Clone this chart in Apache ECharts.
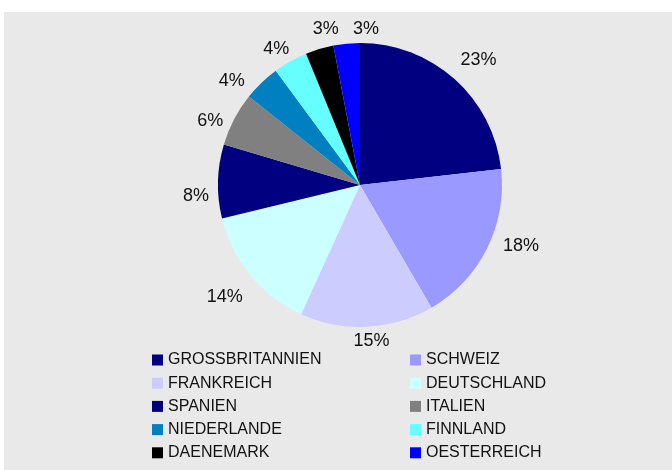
<!DOCTYPE html>
<html lang="de">
<head>
    <meta charset="UTF-8">
    <title>Anteile nach Land</title>
    <script src="https://cdn.jsdelivr.net/npm/echarts@6/dist/echarts.min.js"></script>
    <style>
        html, body { margin: 0; padding: 0; background: #fff; }
        #bg { position: absolute; left: 4px; top: 12px; width: 668px; height: 458px; background: #e9e9e9; }
        #main { position: absolute; left: 0; top: 0; width: 672px; height: 470px; }
    </style>
</head>
<body>
<div id="bg"></div>
<div id="main"></div>
<script type="text/javascript">
    // Laender und Anteile (in %)
    var laender = ['GROSSBRITANNIEN', 'SCHWEIZ', 'FRANKREICH', 'DEUTSCHLAND', 'SPANIEN',
                   'ITALIEN', 'NIEDERLANDE', 'FINNLAND', 'DAENEMARK', 'OESTERREICH'];
    var anteile = [23.2, 18.4, 15.2, 14.4, 8.4, 6.1, 4.2, 3.9, 3.2, 3.0];
    var farben = ['#000080', '#9999ff', '#ccccff', '#ccffff', '#000080',
                  '#808080', '#0080c0', '#66ffff', '#000000', '#0000ff'];
    // Legende in zwei Spalten
    var legendeLinks = [laender[0], laender[2], laender[4], laender[6], laender[8]];
    var legendeRechts = [laender[1], laender[3], laender[5], laender[7], laender[9]];

    // Excel schiebt die Beschriftungen etwas zurecht (Pixel, nur Optik)
    var versatz = {
        'GROSSBRITANNIEN': [6, 1], 'SCHWEIZ': [10, -15], 'FRANKREICH': [3, -13],
        'DEUTSCHLAND': [-5, 4], 'SPANIEN': [5, 15], 'ITALIEN': [0, 14],
        'NIEDERLANDE': [-11, 18], 'FINNLAND': [-1, 11], 'DAENEMARK': [14, 6], 'OESTERREICH': [22, 12]
    };

    var pieData = [];
    for (var i = 0; i < laender.length; i++) {
        pieData.push({ name: laender[i], value: anteile[i], itemStyle: { color: farben[i] } });
    }
    // unsichtbarer Ring nur fuer die Prozent-Beschriftung
    var ringData = [];
    for (var j = 0; j < laender.length; j++) {
        ringData.push({ name: laender[j], value: anteile[j], label: { offset: versatz[laender[j]] } });
    }

    var legendBase = {
        orient: 'vertical',
        top: 347,
        icon: 'rect',
        itemWidth: 11,
        itemHeight: 11,
        itemGap: 7.2,
        itemStyle: { borderWidth: 0 },
        selectedMode: false,
        textStyle: { fontFamily: 'Liberation Sans', fontSize: 16, color: '#111' }
    };

    var myChart = echarts.init(document.getElementById('main'));
    var option = {
        backgroundColor: 'transparent',
        animation: false,
        legend: [
            Object.assign({}, legendBase, { left: 147, data: legendeLinks }),
            Object.assign({}, legendBase, { left: 405, data: legendeRechts })
        ],
        graphic: [{
            type: 'rect',
            left: 358,
            top: 248,
            shape: { width: 2, height: 2 },
            style: { fill: '#000' }
        }],
        series: [
            {
                type: 'pie',
                center: [360, 185],
                radius: 142,
                startAngle: 90,
                clockwise: true,
                silent: true,
                label: { show: false },
                labelLine: { show: false },
                itemStyle: { borderWidth: 0 },
                data: pieData
            },
            {
                type: 'pie',
                center: [360, 185],
                radius: [150, 182],
                startAngle: 90,
                clockwise: true,
                silent: true,
                itemStyle: { color: 'rgba(0,0,0,0)', borderWidth: 0 },
                label: {
                    show: true,
                    position: 'inside',
                    formatter: function (p) { return Math.round(p.percent) + '%'; },
                    fontFamily: 'Liberation Sans',
                    fontSize: 18,
                    color: '#111'
                },
                labelLine: { show: false },
                data: ringData
            }
        ]
    };
    myChart.setOption(option);
</script>
</body>
</html>
